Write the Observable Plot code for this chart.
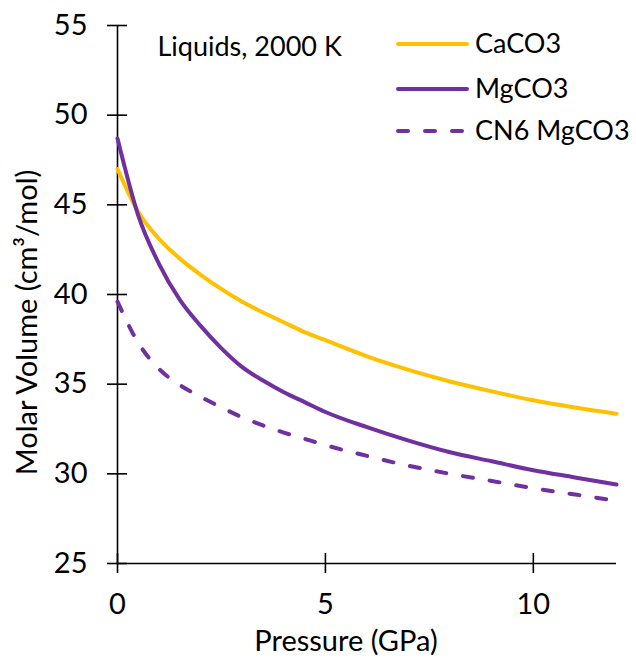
<!DOCTYPE html>
<html><head><meta charset="utf-8">
<script src="https://cdn.jsdelivr.net/npm/d3@7"></script>
<script src="https://cdn.jsdelivr.net/npm/@observablehq/plot@0.6"></script>
<style>
body{margin:0;background:#fff;}
#wrap{width:636px;height:658px;}
</style></head><body><div id="wrap"></div>
<script>
const pressure = [0,0.5,1,1.5,2,2.5,3,3.5,4,4.5,5,6,7,8,9,10,11,12];
const caco3 = [47.0,44.6,43.1,42.0,41.1,40.3,39.6,39.0,38.45,37.9,37.45,36.55,35.8,35.15,34.6,34.1,33.7,33.35];
const mgco3 = [48.7,44.4,41.7,39.7,38.25,37.0,35.95,35.2,34.55,34.0,33.45,32.6,31.85,31.2,30.7,30.2,29.8,29.4];
const cn6mgco3 = [39.6,37.3,35.85,34.95,34.3,33.7,33.15,32.7,32.3,31.95,31.6,31.0,30.45,30.0,29.6,29.2,28.85,28.5];
const seriesNames = ["CaCO3","MgCO3","CN6 MgCO3"];
const seriesColors = ["#FFC000","#7030A0","#7030A0"];
const seriesDash = [null,null,"10,17"];
const xTicks = [0,5,10];
const yTicks = [25,30,35,40,45,50,55];
const xDomain = [0,12];
const yDomain = [25,55];
const xTitle = "Pressure (GPa)";
const yTitle = "Molar Volume (cm³/mol)";
const note = "Liquids, 2000 K";

const seriesValues = [caco3, mgco3, cn6mgco3];
const rows = seriesValues.flatMap((vals, s) => vals.map((v, i) => ({series: seriesNames[s], p: pressure[i], v})));

const font = "Lato, 'Open Sans', sans-serif";
const lineMarks = seriesNames.map((name, s) => Plot.line(rows.filter(d => d.series === name), {
  x: "p", y: "v", stroke: seriesColors[s], strokeWidth: 4, curve: "monotone-x",
  strokeDasharray: seriesDash[s], strokeLinecap: "round", strokeLinejoin: "round"
}));

const chart = Plot.plot({
  width: 636, height: 658,
  marginLeft: 117, marginRight: 20, marginTop: 25, marginBottom: 95,
  style: {fontFamily: font, fontSize: "29px", color: "black", background: "white"},
  x: {domain: xDomain},
  y: {domain: yDomain},
  marks: [
    Plot.ruleX([xDomain[0]], {stroke: "black", strokeWidth: 1.6}),
    Plot.ruleY([yDomain[0]], {stroke: "black", strokeWidth: 1.6}),
    Plot.axisY({ticks: yTicks, tickSize: 10, tickPadding: 20, label: null, strokeWidth: 1.6, fontSize: 29}),
    Plot.axisY({ticks: yTicks, tickSize: 10, dx: 10, tickFormat: () => "", label: null, strokeWidth: 1.6}),
    Plot.axisX({ticks: xTicks, tickSize: 10, tickPadding: 20, label: null, strokeWidth: 1.6, fontSize: 29}),
    Plot.axisX({ticks: xTicks, tickSize: 10, dy: -10, tickFormat: () => "", label: null, strokeWidth: 1.6}),
    ...lineMarks,
    Plot.text([xTitle], {frameAnchor: "bottom", text: d => d, dx: -21, dy: 78, fontSize: 29, textAnchor: "middle", lineAnchor: "middle", fill: "black"}),
    Plot.text([yTitle], {frameAnchor: "left", text: d => d, rotate: -90, dx: -90, dy: 28, fontSize: 29, textAnchor: "middle", lineAnchor: "middle", fill: "black"}),
    Plot.text([note], {frameAnchor: "top-left", text: d => d, dx: 40, dy: 22, fontSize: 27, textAnchor: "start", lineAnchor: "middle", fill: "black"})
  ]
});
document.getElementById("wrap").appendChild(chart);

// legend (inside the plot area, top right)
const svg = d3.select(chart);
const lg = svg.append("g").attr("font-family", font).attr("font-size", 27).attr("text-anchor", "start");
const legendY = [44, 89, 131];
seriesNames.forEach((name, s) => {
  lg.append("line").attr("x1", 398).attr("x2", 467).attr("y1", legendY[s]).attr("y2", legendY[s])
    .attr("stroke", seriesColors[s]).attr("stroke-width", 4).attr("stroke-linecap", "round")
    .attr("stroke-dasharray", seriesDash[s] ? "10,17" : null);
  lg.append("text").attr("x", 475).attr("y", legendY[s]).attr("dy", "0.35em").attr("fill", "black").attr("text-anchor", "start").text(name);
});
</script></body></html>
